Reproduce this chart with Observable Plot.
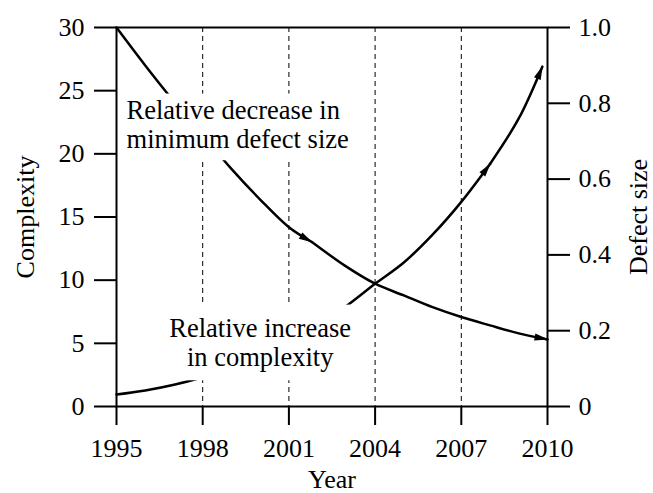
<!DOCTYPE html>
<html>
<head>
<meta charset="utf-8">
<script src="https://cdn.jsdelivr.net/npm/d3@7"></script>
<script src="https://cdn.jsdelivr.net/npm/@observablehq/plot@0.6"></script>
<style>
  html, body { margin: 0; padding: 0; background: #fff; }
  svg { display: block; }
</style>
</head>
<body>
<div id="chart"></div>
<script>
// ---- data ----
const xTicks = [1995, 1998, 2001, 2004, 2007, 2010];
const gridYears = [1998, 2001, 2004, 2007];
const complexityTicks = [0, 5, 10, 15, 20, 25, 30];
const defectTicks = [0, 0.2, 0.4, 0.6, 0.8, 1.0];
const defectTickLabels = ["0", "0.2", "0.4", "0.6", "0.8", "1.0"];

const complexityYears = [1995, 1996, 1997, 1998, 1999, 2000, 2001, 2002, 2003, 2004, 2005, 2006, 2007, 2008, 2009, 2009.82];
const complexity      = [0.95, 1.27, 1.72, 2.32, 3.05, 3.95, 5.05, 6.35, 7.95, 9.71, 11.4, 13.6, 16.2, 19.2, 22.8, 26.9];
const complexityArrowYear = 2008;

const defectYears = [1995, 1996, 1997, 1998, 1999, 2000, 2001, 2001.8, 2003, 2004, 2005, 2006, 2007, 2008, 2009, 2010];
const defectSize  = [1.0, 0.90, 0.805, 0.716, 0.627, 0.546, 0.473, 0.434, 0.369, 0.324, 0.293, 0.262, 0.236, 0.214, 0.193, 0.177];
const defectArrowYear = 2001.8;

const complexityMax = 30;
const defectMax = 1.0;

const annotationLabels = ["Relative decrease in\nminimum defect size", "Relative increase\nin complexity"];
const annotationYears = [1995.35, 2000];
const annotationValues = [22.37, 5.11];

const axisTitles = ["Complexity", "Defect size", "Year"];

// ---- helpers ----
const ratio = complexityMax / defectMax;
function segmented(years, values, arrowYear, k) {
  const rows = [];
  years.forEach((yr, i) => {
    const y = values[i] * k;
    if (yr <= arrowYear) rows.push({year: yr, y, seg: 0});
    if (yr >= arrowYear) rows.push({year: yr, y, seg: 1});
  });
  return rows;
}
const complexityRows = segmented(complexityYears, complexity, complexityArrowYear, 1);
const defectRows = segmented(defectYears, defectSize, defectArrowYear, ratio);

const annotations = annotationLabels.map((label, i) => ({label, year: annotationYears[i], value: annotationValues[i]}));

const NS = "http://www.w3.org/2000/svg";
function filledArrow(color, context) {
  const doc = (context && context.document) || document;
  const m = doc.createElementNS(NS, "marker");
  m.setAttribute("viewBox", "-13 -4 14 8");
  m.setAttribute("markerWidth", 14);
  m.setAttribute("markerHeight", 8);
  m.setAttribute("markerUnits", "userSpaceOnUse");
  m.setAttribute("orient", "auto");
  m.setAttribute("overflow", "visible");
  const p = doc.createElementNS(NS, "path");
  p.setAttribute("d", "M-13,-3.6L1,0L-13,3.6Z");
  p.setAttribute("fill", color);
  p.setAttribute("stroke", "none");
  m.appendChild(p);
  return m;
}

const defectTickPos = defectTicks.map(t => t * ratio);
const defectLabel = d => defectTickLabels[defectTickPos.findIndex(p => Math.abs(p - d) < 1e-6)];

const FS = 26;

const svg = Plot.plot({
  width: 653,
  height: 493,
  marginLeft: 116,
  marginRight: 106,
  marginTop: 27,
  marginBottom: 87,
  style: {
    fontFamily: "'Liberation Serif', 'Times New Roman', Times, serif",
    fontSize: FS + "px",
    background: "white",
    color: "black"
  },
  x: {domain: [1995, 2010]},
  y: {domain: [0, complexityMax]},
  marks: [
    Plot.ruleX(gridYears, {stroke: "black", strokeWidth: 1, strokeDasharray: "5,4"}),
    Plot.line(defectRows, {x: "year", y: "y", z: "seg", curve: "catmull-rom", stroke: "black", strokeWidth: 2.5, markerEnd: filledArrow}),
    Plot.line(complexityRows, {x: "year", y: "y", z: "seg", curve: "catmull-rom", stroke: "black", strokeWidth: 2.5, markerEnd: filledArrow}),
    Plot.text([annotations[0]], {x: "year", y: "value", text: "label", textAnchor: "start", lineAnchor: "middle", lineHeight: 1.12, fontSize: 26.5, fill: "black"}),
    Plot.text([annotations[1]], {x: "year", y: "value", text: "label", textAnchor: "middle", lineAnchor: "middle", lineHeight: 1.12, fontSize: 26.5, fill: "black"}),
    Plot.frame({stroke: "black", strokeWidth: 2}),
    Plot.axisX(xTicks, {tickSize: 19, tickPadding: 13, strokeWidth: 2, tickFormat: d => String(d), label: null, fontSize: FS}),
    Plot.axisY(complexityTicks, {anchor: "left", tickSize: 22, tickPadding: 10, strokeWidth: 2, label: null, fontSize: FS}),
    Plot.axisY(defectTickPos, {anchor: "right", tickSize: 22, tickPadding: 9, strokeWidth: 2, tickFormat: defectLabel, label: null, fontSize: FS}),
    Plot.text([axisTitles[0]], {frameAnchor: "left", textAnchor: "middle", lineAnchor: "middle", rotate: -90, dx: -91, fontSize: FS, fill: "black"}),
    Plot.text([axisTitles[1]], {frameAnchor: "right", textAnchor: "middle", lineAnchor: "middle", rotate: -90, dx: 91, fontSize: FS, fill: "black"}),
    Plot.text([axisTitles[2]], {frameAnchor: "bottom", textAnchor: "middle", lineAnchor: "middle", dy: 73, fontSize: FS, fill: "black"})
  ]
});
document.getElementById("chart").appendChild(svg);

// white knock-out boxes behind the annotation texts (as in the original figure)
// padding: [top, right, bottom, left]
const pads = [["Relative decrease", [1, 4, 6, 4]], ["Relative increase", [8, 8, 8, 8]]];
Array.from(svg.querySelectorAll("text")).forEach(t => {
  const hit = pads.find(([k]) => (t.textContent || "").startsWith(k));
  if (!hit) return;
  const [pt, pr, pb, pl] = hit[1];
  const b = t.getBBox();
  const r = document.createElementNS(NS, "rect");
  r.setAttribute("x", b.x - pl);
  r.setAttribute("y", b.y - pt);
  r.setAttribute("width", b.width + pl + pr);
  r.setAttribute("height", b.height + pt + pb);
  r.setAttribute("fill", "white");
  r.setAttribute("stroke", "none");
  const tr = t.getAttribute("transform");
  if (tr) r.setAttribute("transform", tr);
  t.parentNode.insertBefore(r, t);
});
</script>
</body>
</html>
